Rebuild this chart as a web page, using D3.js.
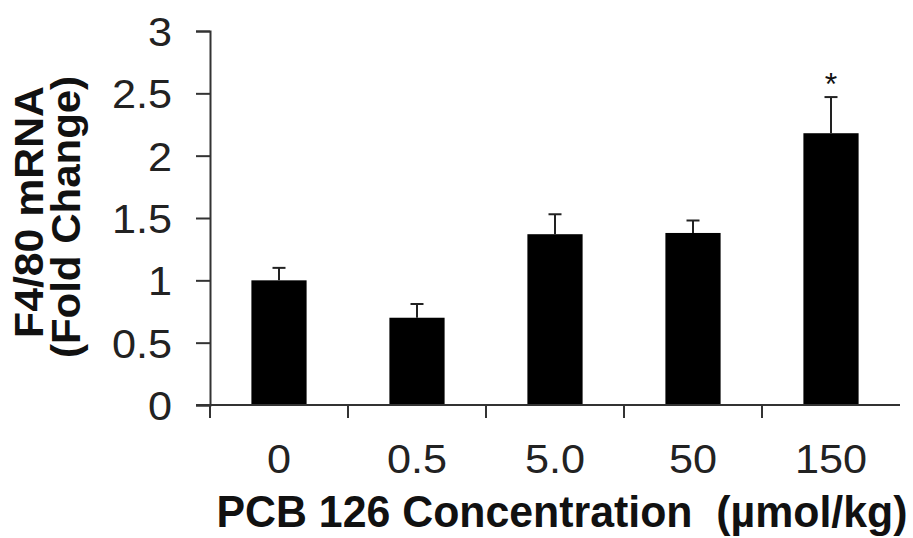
<!DOCTYPE html>
<html><head><meta charset="utf-8">
<script src="https://cdn.jsdelivr.net/npm/d3@7"></script>
<style>body{margin:0;background:#fff}svg{display:block}text{font-family:Arial,"Liberation Sans",sans-serif}</style>
</head><body><svg id="c" width="913" height="538"></svg>
<script>
const categories = ["0", "0.5", "5.0", "50", "150"];
const values = [1.0, 0.70, 1.37, 1.38, 2.18];
const errors = [0.10, 0.11, 0.16, 0.10, 0.29];
const significance = ["", "", "", "", "*"];
const yTicks = [0, 0.5, 1, 1.5, 2, 2.5, 3];
const yTickLabels = ["0", "0.5", "1", "1.5", "2", "2.5", "3"];

const svg = d3.select("#c");
const x = d3.scaleBand().domain(categories).range([210, 900]).paddingInner(0.6).paddingOuter(0.3);
const y = d3.scaleLinear().domain([0, 3]).range([405, 31]);
const axisColor = "#333";
const labelColor = "#222";

// bars
svg.selectAll("rect.bar").data(values).enter().append("rect")
  .attr("x", (d, i) => x(categories[i])).attr("width", x.bandwidth())
  .attr("y", d => y(d)).attr("height", d => y(0) - y(d)).attr("fill", "#000");

// error bars
const eb = svg.append("g").attr("stroke", "#222").attr("stroke-width", 2);
values.forEach((v, i) => {
  const cx = x(categories[i]) + x.bandwidth() / 2;
  eb.append("line").attr("x1", cx).attr("x2", cx).attr("y1", y(v)).attr("y2", y(v + errors[i]));
  eb.append("line").attr("x1", cx - 6.5).attr("x2", cx + 6.5).attr("y1", y(v + errors[i])).attr("y2", y(v + errors[i]));
  if (significance[i]) {
    svg.append("text").attr("x", cx).attr("y", y(v + errors[i]) - 2).attr("text-anchor", "middle")
      .attr("font-size", 32).attr("fill", "#111").text(significance[i]);
  }
});

// y axis
const yAxis = d3.axisLeft(y).tickValues(yTicks).tickFormat((d, i) => yTickLabels[i]).tickSizeOuter(0).tickSize(14);
const gy = svg.append("g").attr("transform", "translate(210,0)").call(yAxis);
gy.select(".domain").attr("stroke", axisColor).attr("stroke-width", 2);
gy.selectAll(".tick line").attr("stroke", axisColor).attr("stroke-width", 2);
gy.selectAll(".tick text").attr("x", 0).attr("dy", "0.36em")
  .attr("transform", "translate(-38,0) scale(1.08,1)")
  .attr("font-size", 40).attr("fill", labelColor).attr("font-family", "Arial, 'Liberation Sans', sans-serif");

// x axis: boundary ticks
const xb = d3.scaleLinear().domain([0, 5]).range([210, 900]);
const gx = svg.append("g").attr("transform", "translate(0,405)");
gx.append("line").attr("x1", 196).attr("x2", 900).attr("y1", 0).attr("y2", 0).attr("stroke", axisColor).attr("stroke-width", 2);
gx.selectAll("line.bt").data(d3.range(0, 5)).enter().append("line")
  .attr("x1", d => xb(d)).attr("x2", d => xb(d)).attr("y1", 0).attr("y2", 13)
  .attr("stroke", axisColor).attr("stroke-width", 2);
gx.selectAll("text.lab").data(categories).enter().append("text")
  .attr("transform", d => `translate(${x(d) + x.bandwidth() / 2},68) scale(1.08,1)`)
  .attr("text-anchor", "middle")
  .attr("font-size", 40).attr("fill", labelColor).text(d => d);

// axis titles
svg.append("text").attr("transform", "translate(562,527) scale(1.02,1.06)").attr("text-anchor", "middle")
  .attr("font-size", 42).attr("font-weight", "bold").attr("fill", "#111")
  .style("white-space", "pre").text("PCB 126 Concentration  (µmol/kg)");
svg.append("text").attr("transform", "translate(43,212) rotate(-90) scale(1.07,1)").attr("text-anchor", "middle")
  .attr("font-size", 40).attr("font-weight", "bold").attr("fill", "#111").text("F4/80 mRNA");
svg.append("text").attr("transform", "translate(80,217) rotate(-90) scale(1.05,1)").attr("text-anchor", "middle")
  .attr("font-size", 40).attr("font-weight", "bold").attr("fill", "#111").text("(Fold Change)");
</script></body></html>
